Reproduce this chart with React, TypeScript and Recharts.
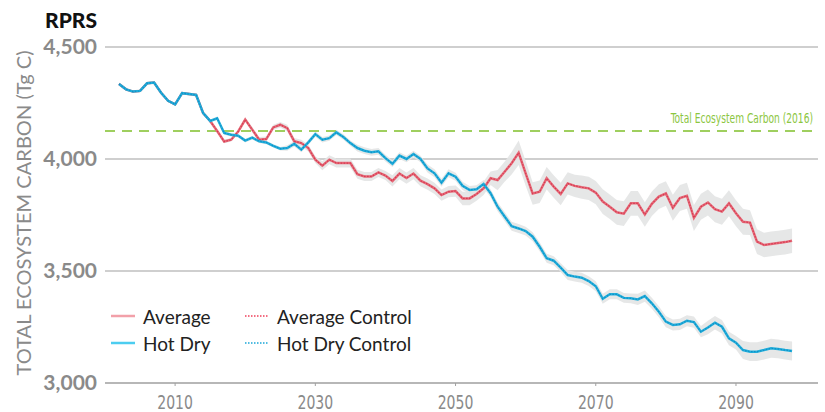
import { ComposedChart, Line, Area, XAxis, YAxis, CartesianGrid, ReferenceLine } from 'recharts';

// years 2002..2098, one point per year
const years = Array.from({ length: 97 }, (_, i) => 2002 + i);

const average = [
  4335, 4311, 4301, 4304, 4338, 4341, 4296, 4260, 4244, 4294,
  4290, 4286, 4205, 4170, 4125, 4078, 4086, 4123, 4176, 4131,
  4086, 4089, 4141, 4153, 4138, 4079, 4071, 4049, 3997, 3970,
  3997, 3982, 3982, 3982, 3932, 3922, 3922, 3940, 3926, 3902,
  3935, 3915, 3935, 3903, 3888, 3869, 3839, 3854, 3857, 3824,
  3824, 3844, 3869, 3914, 3906, 3943, 3981, 4028, 3936, 3846,
  3854, 3914, 3877, 3844, 3891, 3880, 3874, 3869, 3850, 3810,
  3787, 3762, 3756, 3802, 3802, 3752, 3800, 3832, 3846, 3782,
  3826, 3836, 3737, 3787, 3806, 3776, 3765, 3802, 3758, 3720,
  3716, 3631, 3616, 3621, 3625, 3629, 3635,
];

const hotDry = [
  4335, 4311, 4301, 4304, 4338, 4341, 4296, 4260, 4244, 4294,
  4290, 4286, 4205, 4170, 4182, 4116, 4108, 4104, 4082, 4095,
  4079, 4074, 4059, 4046, 4049, 4068, 4042, 4074, 4111, 4086,
  4093, 4119, 4098, 4071, 4049, 4037, 4030, 4034, 4004, 3979,
  4015, 4000, 4022, 4000, 3958, 3936, 3894, 3936, 3921, 3880,
  3862, 3865, 3888, 3847, 3787, 3743, 3700, 3690, 3678, 3653,
  3608, 3557, 3546, 3515, 3482, 3475, 3470, 3455, 3432, 3376,
  3396, 3396, 3380, 3378, 3373, 3388, 3356, 3318, 3274, 3259,
  3262, 3278, 3272, 3229, 3248, 3269, 3251, 3199, 3180, 3147,
  3140, 3140, 3147, 3155, 3152, 3147, 3143,
];

// half-width of the grey range around each series
const averageSpread = [
  6, 6, 6, 6, 6, 6, 6, 6, 6, 6,
  6, 6, 8, 8, 8, 8, 8, 8, 8, 12,
  12, 12, 12, 12, 15, 15, 15, 15, 15, 20,
  20, 20, 20, 20, 20, 20, 20, 20, 20, 25,
  25, 25, 25, 25, 25, 25, 25, 25, 25, 30,
  30, 30, 30, 30, 45, 45, 50, 55, 55, 50,
  50, 50, 50, 50, 50, 50, 52, 52, 52, 55,
  55, 55, 55, 55, 55, 55, 55, 55, 55, 58,
  58, 58, 58, 58, 58, 58, 58, 58, 58, 58,
  55, 55, 55, 55, 55, 55, 55,
];

const hotDrySpread = [
  6, 6, 6, 6, 6, 6, 6, 6, 6, 6,
  6, 6, 6, 6, 8, 8, 8, 8, 8, 8,
  8, 8, 8, 8, 12, 12, 12, 12, 12, 12,
  12, 12, 12, 12, 15, 15, 15, 15, 15, 15,
  15, 15, 15, 15, 18, 18, 18, 18, 18, 18,
  18, 18, 18, 18, 20, 20, 20, 20, 20, 20,
  20, 20, 20, 20, 22, 22, 22, 22, 22, 22,
  22, 22, 22, 22, 25, 25, 25, 25, 25, 25,
  25, 25, 25, 25, 30, 30, 30, 30, 30, 40,
  42, 42, 42, 42, 42, 42, 42,
];

const xTicks = [2010, 2030, 2050, 2070, 2090];
const yTicks = [3000, 3500, 4000, 4500];
const carbon2016 = 4125;

const data = years.map((year, i) => ({
  year,
  average: average[i],
  averageControl: average[i],
  hotDry: hotDry[i],
  hotDryControl: hotDry[i],
  averageBand: [average[i] - averageSpread[i], average[i] + averageSpread[i]],
  hotDryBand: [hotDry[i] - hotDrySpread[i], hotDry[i] + hotDrySpread[i]],
}));

const RED = '#e66a78';
const RED_DOT = '#d63a52';
const BLUE = '#22b0dc';
const BLUE_DOT = '#128ec6';
const GREY = '#8a8a8a';
const narrow = "'Liberation Sans Narrow', 'DejaVu Sans Condensed', sans-serif";

function XTick({ x, y, payload }: any) {
  return (
    <text
      transform={`translate(${x},${y + 21}) scale(0.8,1)`}
      textAnchor="middle"
      fill={GREY}
      fontFamily={narrow}
      fontSize={19.5}
    >
      {payload.value}
    </text>
  );
}

function YTick({ x, y, payload }: any) {
  return (
    <text x={x} y={y} dy={7} textAnchor="end" fill={GREY} fontFamily="Lato, sans-serif" fontWeight={700} fontSize={21}>
      {payload.value.toLocaleString('en-US')}
    </text>
  );
}

const legendItems = [
  { label: 'Average', color: '#f2a0a9', dotted: false },
  { label: 'Average Control', color: '#ef3f5a', dotted: true },
  { label: 'Hot Dry', color: '#4ccdf0', dotted: false },
  { label: 'Hot Dry Control', color: '#18a6d8', dotted: true },
];

function ChartLegend() {
  return (
    <div
      style={{
        position: 'absolute',
        left: 111,
        top: 305,
        display: 'grid',
        gridTemplateColumns: '134px 180px',
        rowGap: 5,
        fontFamily: 'Lato, sans-serif',
        fontSize: 19,
        color: '#222',
      }}
    >
      {legendItems.map((item) => (
        <div key={item.label} style={{ display: 'flex', alignItems: 'center', height: 22 }}>
          <svg width={24} height={10} style={{ marginRight: 8 }}>
            <line
              x1={0}
              x2={24}
              y1={5}
              y2={5}
              stroke={item.color}
              strokeWidth={item.dotted ? 1.5 : 2.5}
              strokeDasharray={item.dotted ? '1.5 1.5' : undefined}
            />
          </svg>
          <span>{item.label}</span>
        </div>
      ))}
    </div>
  );
}

export default function App() {
  return (
    <div style={{ position: 'absolute', left: 0, top: 0, width: 825, height: 412, background: '#fff' }}>
      <svg width={825} height={412} style={{ position: 'absolute', left: 0, top: 0 }}>
        <text
          x={97}
          y={28}
          textAnchor="end"
          fontFamily="Lato, sans-serif"
          fontWeight={900}
          fontSize={20}
          fill="#111"
          textLength={52}
          lengthAdjust="spacingAndGlyphs"
        >
          RPRS
        </text>
        <text
          transform="translate(31,213) rotate(-90)"
          textAnchor="middle"
          fontFamily="Lato, sans-serif"
          fontSize={19}
          fill={GREY}
          textLength={325}
          lengthAdjust="spacingAndGlyphs"
        >
          TOTAL ECOSYSTEM CARBON (Tg C)
        </text>
      </svg>
      <div style={{ position: 'absolute', left: 0, top: 0 }}>
        <ComposedChart width={825} height={412} data={data} margin={{ top: 47, right: 7, left: 0, bottom: 0 }}>
          <CartesianGrid vertical={false} stroke="#a0a0a0" strokeWidth={1.2} />
          <XAxis
            dataKey="year"
            type="number"
            domain={[2000, 2101.7]}
            ticks={xTicks}
            height={29}
            tick={<XTick />}
            tickSize={3}
            tickMargin={2}
            tickLine={{ stroke: '#a0a0a0' }}
            axisLine={{ stroke: '#a0a0a0', strokeWidth: 1.2 }}
          />
          <YAxis
            type="number"
            domain={[3000, 4500]}
            ticks={yTicks}
            width={105}
            axisLine={false}
            tickLine={false}
            tickSize={0}
            tickMargin={8}
            tick={<YTick />}
          />
          <ReferenceLine
            y={carbon2016}
            stroke="#9fcf5f"
            strokeWidth={2}
            strokeDasharray="10 7"
            label={(props: any) => {
              const vb = props.viewBox;
              return (
                <text
                  transform={`translate(${vb.x + vb.width - 5},${vb.y - 8}) scale(0.7,1)`}
                  textAnchor="end"
                  fontFamily={narrow}
                  fontSize={14.5}
                  fill="#8cc63f"
                >
                  Total Ecosystem Carbon (2016)
                </text>
              );
            }}
          />
          <Area dataKey="averageBand" fill="#e3e4e4" fillOpacity={0.9} stroke="none" isAnimationActive={false} />
          <Area dataKey="hotDryBand" fill="#e3e4e4" fillOpacity={0.9} stroke="none" isAnimationActive={false} />
          <Line dataKey="average" stroke={RED} strokeWidth={2.5} dot={false} isAnimationActive={false} />
          <Line dataKey="averageControl" stroke={RED_DOT} strokeWidth={1.2} strokeDasharray="1.5 1.5" dot={false} isAnimationActive={false} />
          <Line dataKey="hotDry" stroke={BLUE} strokeWidth={2.5} dot={false} isAnimationActive={false} />
          <Line dataKey="hotDryControl" stroke={BLUE_DOT} strokeWidth={1.2} strokeDasharray="1.5 1.5" dot={false} isAnimationActive={false} />
        </ComposedChart>
      </div>
      <ChartLegend />
    </div>
  );
}
